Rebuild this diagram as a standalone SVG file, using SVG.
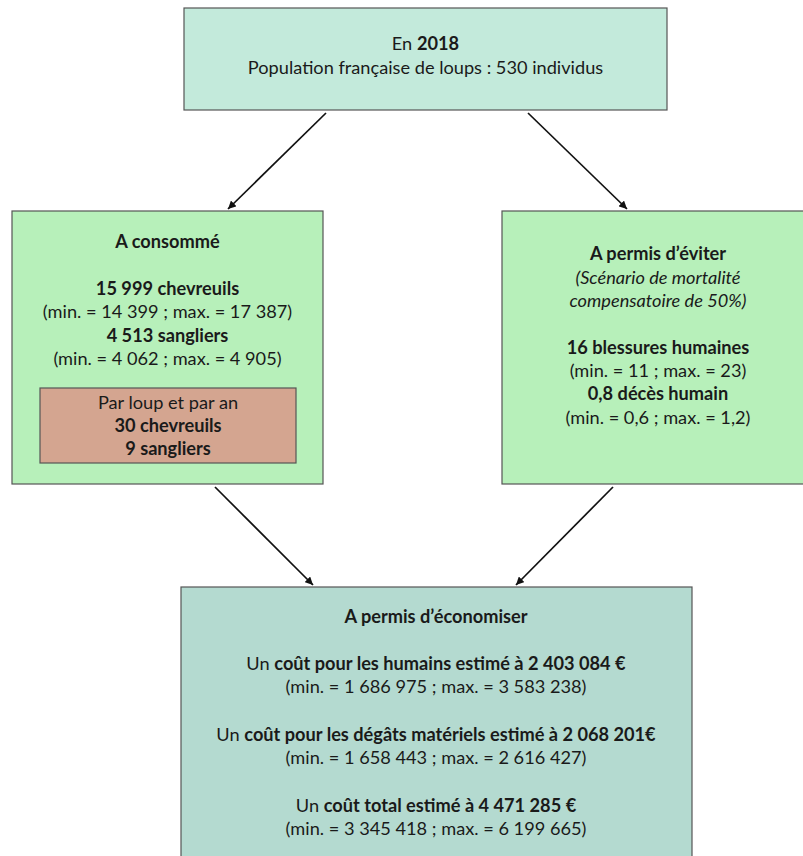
<svg xmlns="http://www.w3.org/2000/svg" width="803" height="856" viewBox="0 0 803 856">
<style>
.box{stroke:#555;stroke-width:1.2}
text{font-family:Lato,"Noto Sans","Liberation Sans",sans-serif;font-size:18.2px;fill:#1a1a1a;text-anchor:middle}
.b{font-weight:bold}
.i{font-style:italic}
.conn line{stroke:#111;stroke-width:1.7;marker-end:url(#ah)}
</style>
<defs>
<marker id="ah" viewBox="0 0 10 10" refX="10" refY="5" markerWidth="8" markerHeight="8" markerUnits="userSpaceOnUse" orient="auto">
<path d="M0,0 L10,5 L0,10 z" fill="#111"/>
</marker>
</defs>
<rect width="803" height="856" fill="#fff"/>
<g id="top">
<rect class="box" x="184" y="8" width="483" height="102" fill="#c3eadb"/>
<text x="425.5" y="50">En <tspan class="b">2018</tspan></text>
<text x="425.5" y="74">Population française de loups : 530 individus</text>
</g>
<g id="consomme">
<rect class="box" x="12" y="211" width="311" height="273" fill="#b7f0ba"/>
<text x="167.5" y="248" class="b">A consommé</text>
<text x="167.5" y="295" class="b">15 999 chevreuils</text>
<text x="167.5" y="318">(min. = 14 399 ; max. = 17 387)</text>
<text x="167.5" y="342" class="b">4 513 sangliers</text>
<text x="167.5" y="365">(min. = 4 062 ; max. = 4 905)</text>
</g>
<g id="parloup">
<rect class="box" x="40" y="388" width="256" height="75" fill="#d4a590"/>
<text x="168" y="409">Par loup et par an</text>
<text x="168" y="432" class="b">30 chevreuils</text>
<text x="168" y="455" class="b">9 sangliers</text>
</g>
<g id="eviter">
<rect class="box" x="502" y="211" width="312" height="273" fill="#b7f0ba"/>
<text x="658" y="260" class="b">A permis d’éviter</text>
<text x="658" y="284" class="i">(Scénario de mortalité</text>
<text x="658" y="307" class="i">compensatoire de 50%)</text>
<text x="658" y="354" class="b">16 blessures humaines</text>
<text x="658" y="377">(min. = 11 ; max. = 23)</text>
<text x="658" y="400" class="b">0,8 décès humain</text>
<text x="658" y="424">(min. = 0,6 ; max. = 1,2)</text>
</g>
<g id="economiser">
<rect class="box" x="181" y="587" width="511" height="280" fill="#b4dad0"/>
<text x="436" y="623" class="b">A permis d’économiser</text>
<text x="436" y="670">Un <tspan class="b">coût pour les humains estimé à 2 403 084 €</tspan></text>
<text x="436" y="693">(min. = 1 686 975 ; max. = 3 583 238)</text>
<text x="436" y="741">Un <tspan class="b">coût pour les dégâts matériels estimé à 2 068 201€</tspan></text>
<text x="436" y="764">(min. = 1 658 443 ; max. = 2 616 427)</text>
<text x="436" y="812">Un <tspan class="b">coût total estimé à 4 471 285 €</tspan></text>
<text x="436" y="835">(min. = 3 345 418 ; max. = 6 199 665)</text>
</g>
<g class="conn" id="connectors">
<line x1="326" y1="113" x2="228" y2="209"/>
<line x1="528" y1="113" x2="627" y2="209"/>
<line x1="215" y1="487" x2="313" y2="585"/>
<line x1="613" y1="487" x2="516" y2="585"/>
</g>
</svg>
